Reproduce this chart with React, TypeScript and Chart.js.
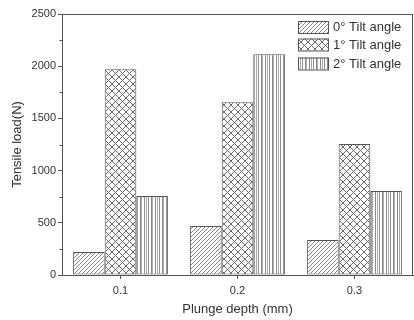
import React, { useEffect, useRef } from "react";
import { Chart, registerables } from "chart.js";

Chart.register(...registerables);

const categories = ["0.1", "0.2", "0.3"];
const seriesNames = ["0° Tilt angle", "1° Tilt angle", "2° Tilt angle"];
const tilt0 = [220, 470, 335];
const tilt1 = [1970, 1655, 1255];
const tilt2 = [757, 2115, 805];
const yTicks = [0, 500, 1000, 1500, 2000, 2500];

const FONT = "'Liberation Sans', Arial, sans-serif";

function makePattern(kind: string): CanvasPattern | string {
  const c = document.createElement("canvas");
  const ctx = c.getContext("2d");
  if (!ctx) return "#ccc";
  if (kind === "diag") {
    const n = 4;
    c.width = n; c.height = n;
    ctx.fillStyle = "#fff"; ctx.fillRect(0, 0, n, n);
    ctx.strokeStyle = "#8a8a8a"; ctx.lineWidth = 1;
    ctx.beginPath();
    ctx.moveTo(-1, n + 1); ctx.lineTo(n + 1, -1);
    ctx.moveTo(-1, 1); ctx.lineTo(1, -1);
    ctx.moveTo(n - 1, n + 1); ctx.lineTo(n + 1, n - 1);
    ctx.stroke();
  } else if (kind === "cross") {
    const n = 7;
    c.width = n; c.height = n;
    ctx.fillStyle = "#fff"; ctx.fillRect(0, 0, n, n);
    ctx.strokeStyle = "#6a6a6a"; ctx.lineWidth = 1;
    ctx.beginPath();
    ctx.moveTo(0, 0); ctx.lineTo(n, n);
    ctx.moveTo(0, n); ctx.lineTo(n, 0);
    ctx.stroke();
  } else {
    const w = 11;
    c.width = w; c.height = 4;
    ctx.fillStyle = "#fff"; ctx.fillRect(0, 0, w, 4);
    const cols: [number, string][] = [[1, "#8c8c8c"], [3, "#a8a8a8"], [5, "#909090"], [8, "#888"], [9, "#b0b0b0"]];
    cols.forEach(([x, col]) => { ctx.fillStyle = col; ctx.fillRect(x, 0, 1, 4); });
  }
  const p = ctx.createPattern(c, "repeat");
  return p || "#ccc";
}

export default function App() {
  const ref = useRef<HTMLCanvasElement | null>(null);
  useEffect(() => {
    if (!ref.current) return;
    const patterns = [makePattern("diag"), makePattern("cross"), makePattern("vert")];
    const frame = {
      id: "frameAndLegend",
      afterDraw(chart: any) {
        const { ctx, chartArea } = chart;
        const { left, right, top, bottom } = chartArea;
        ctx.save();
        ctx.strokeStyle = "#555";
        ctx.lineWidth = 1;
        ctx.beginPath();
        ctx.moveTo(left, top + 0.5);
        ctx.lineTo(right, top + 0.5);
        ctx.moveTo(right - 0.5, top);
        ctx.lineTo(right - 0.5, bottom);
        ctx.stroke();
        // minor ticks
        const ys = chart.scales.y;
        ctx.beginPath();
        for (let v = 250; v < 2500; v += 500) {
          const y = Math.round(ys.getPixelForValue(v)) + 0.5;
          ctx.moveTo(left, y);
          ctx.lineTo(left - 2.5, y);
        }
        ctx.stroke();
        // legend
        const bx = right - 115;
        const rows = [21, 38.5, 57.5];
        ctx.font = `13px ${FONT}`;
        ctx.textBaseline = "middle";
        ctx.textAlign = "left";
        seriesNames.forEach((name, i) => {
          const y = rows[i];
          ctx.fillStyle = patterns[i] as any;
          ctx.fillRect(bx, y, 30, 12);
          ctx.strokeStyle = "#555";
          ctx.strokeRect(bx + 0.5, y + 0.5, 30, 12);
          ctx.fillStyle = "#333";
          ctx.fillText(name, bx + 35, y + 6.5);
        });
        ctx.restore();
      },
    };
    const datasets = [tilt0, tilt1, tilt2].map((d, i) => ({
      label: seriesNames[i],
      data: d,
      backgroundColor: patterns[i] as any,
      borderColor: "#555",
      borderWidth: 1,
      borderSkipped: false as any,
      barPercentage: 1,
      categoryPercentage: 0.81,
    }));
    const chart = new Chart(ref.current, {
      type: "bar",
      data: { labels: categories, datasets },
      options: {
        animation: false,
        responsive: false,
        devicePixelRatio: 1,
        layout: { padding: { top: 14, right: 1, left: 0, bottom: 0 } },
        plugins: { legend: { display: false }, tooltip: { enabled: false } },
        scales: {
          x: {
            offset: true,
            grid: { drawOnChartArea: false, drawTicks: true, tickLength: 4, tickColor: "#555", offset: false },
            border: { display: true, color: "#555", width: 1 },
            ticks: { font: { size: 11, family: FONT }, color: "#333", padding: 5 },
            title: { display: true, text: "Plunge depth (mm)", font: { size: 13, family: FONT }, color: "#333", padding: { top: 0, bottom: 3 } },
            afterFit: (s: any) => { s.height = 45; },
          },
          y: {
            min: 0,
            max: 2500,
            afterBuildTicks: (s: any) => { s.ticks = yTicks.map((v) => ({ value: v })); },
            grid: { drawOnChartArea: false, drawTicks: true, tickLength: 4, tickColor: "#555" },
            border: { display: true, color: "#555", width: 1 },
            ticks: { font: { size: 11, family: FONT }, color: "#333", padding: 2, callback: (v: any) => String(v) },
            title: { display: true, text: "Tensile load(N)", font: { size: 13, family: FONT }, color: "#333", padding: { top: 10, bottom: 0 } },
            afterFit: (s: any) => { s.width = 62; },
          },
        },
      },
      plugins: [frame],
    });
    return () => chart.destroy();
  }, []);
  return (
    <div style={{ position: "fixed", left: 0, top: 0, width: 414, height: 320, background: "#fff" }}>
      <canvas ref={ref} width={414} height={320} style={{ display: "block" }} />
    </div>
  );
}
